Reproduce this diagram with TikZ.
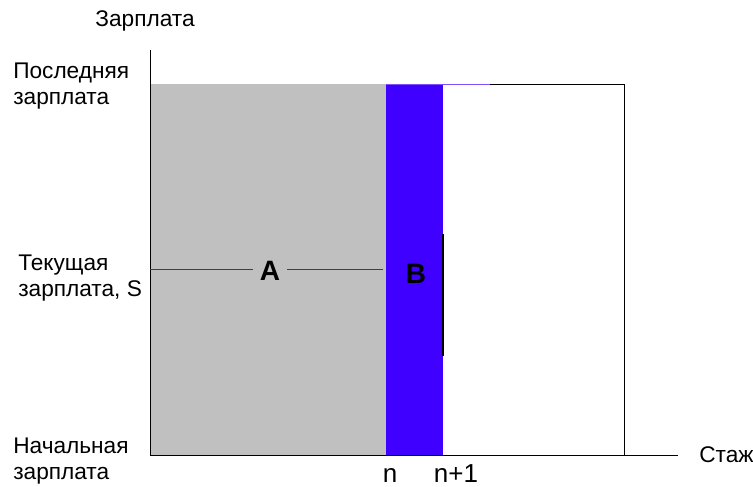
\documentclass[tikz,border=0pt]{standalone}
\usepackage{fontspec}
\setmainfont{Liberation Sans}
\definecolor{barblue}{HTML}{4000FF}
\definecolor{edgeblue}{HTML}{8050FF}
\definecolor{fillgray}{HTML}{C0C0C0}
\begin{document}
\begin{tikzpicture}[x=0.75pt, y=-0.75pt,
    lbl/.style={align=left, anchor=west, inner sep=0pt, font=\fontsize{17}{19}\selectfont},
    big/.style={inner sep=0pt, anchor=base, font=\fontsize{19.5}{20}\selectfont},
    area/.style={inner sep=0pt, font=\bfseries\fontsize{21}{21}\selectfont}]
        \useasboundingbox (0,0) rectangle (753,486);

        % Areas under the top wage
        \fill[fillgray] (150,84) rectangle (386,455);
        \fill[barblue] (386,84) rectangle (443,455);

        % Top and right edge of the box
        \draw[thin, edgeblue] (386,84) -- (490,84);
        \draw[thin] (490,84) -- (624,84) -- (624,455);
        \draw[thin, edgeblue] (365,455) -- (498,455);

        % Axes
        \draw[thin] (150,50) -- (150,455);
        \draw[thin] (150,455) -- (678,455);

        % Current wage level
        \node[area] (A) at (270,271) {A};
        \node[area] (B) at (416,274) {B};
        \coordinate (s0) at (150,269);
        \coordinate (s1) at (383,269);
        \draw[line width=0.6pt, black!75] (s0) -- ([xshift=-5]A.west |- s0);
        \draw[line width=0.6pt, black!75] ([xshift=5]A.east |- s0) -- (s1);

        % Step between n and n+1
        \draw[line width=1.5pt] (443,234) -- (443,356);

        % Axis labels
        \node[font=\fontsize{17}{19}\selectfont, inner sep=0pt] (ylab) at (145,21) {Зарплата};
        \node[lbl] (top) at (13,86) {Последняя\\зарплата};
        \node[lbl] (cur) at (18,278) {Текущая\\зарплата, S};
        \node[lbl] (low) at (13,461) {Начальная\\зарплата};
        \node[lbl] (xlab) at (699,455) {Стаж};

        % Ticks n and n+1
        \node[big] (n) at (390,482) {n};
        \node[big] (n1) at (456,482) {n+1};

\end{tikzpicture}
\end{document}
